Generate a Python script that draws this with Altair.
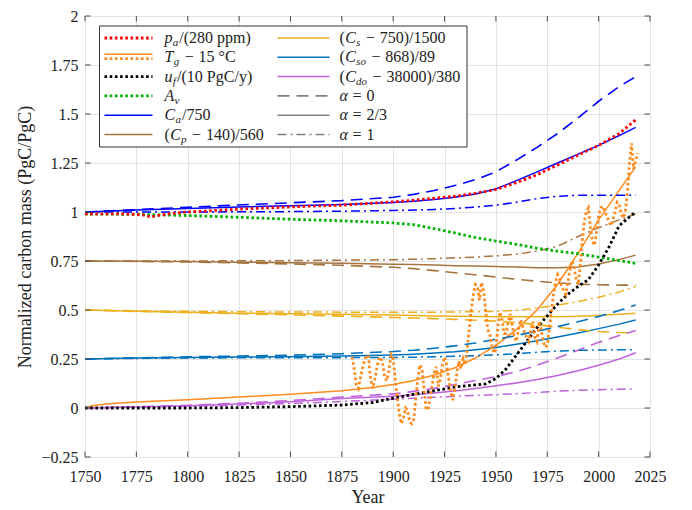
import altair as alt
import pandas as pd

# ---------------- data ----------------
YRS = [1750, 1775, 1800, 1825, 1850, 1875, 1900, 1910, 1920, 1930, 1940,
       1950, 1960, 1970, 1980, 1990, 2000, 2010, 2018]

CA_A0 = [1.0, 1.012, 1.024, 1.036, 1.047, 1.058, 1.075, 1.09, 1.11, 1.135, 1.165,
         1.205, 1.265, 1.33, 1.40, 1.48, 1.565, 1.64, 1.69]
CA_A23 = [1.0, 1.01, 1.018, 1.026, 1.032, 1.038, 1.048, 1.055, 1.064, 1.075, 1.092,
          1.118, 1.16, 1.205, 1.25, 1.295, 1.34, 1.39, 1.432]
CA_A1 = [1.0, 1.0, 1.0, 1.001, 1.002, 1.004, 1.008, 1.01, 1.013, 1.018, 1.025,
         1.035, 1.05, 1.068, 1.08, 1.085, 1.086, 1.086, 1.086]

CP_A0 = [0.75, 0.748, 0.745, 0.74, 0.735, 0.728, 0.718, 0.711, 0.701, 0.69, 0.68,
         0.668, 0.657, 0.647, 0.638, 0.632, 0.629, 0.627, 0.627]
CP_A23 = [0.75, 0.749, 0.747, 0.744, 0.741, 0.738, 0.734, 0.732, 0.729, 0.726, 0.724,
          0.722, 0.719, 0.716, 0.715, 0.72, 0.735, 0.757, 0.78]
CP_A1 = [0.75, 0.75, 0.75, 0.751, 0.752, 0.754, 0.757, 0.759, 0.762, 0.766, 0.77,
         0.776, 0.785, 0.80, 0.825, 0.875, 0.92, 0.96, 0.99]

CS_A0 = [0.5, 0.493, 0.487, 0.481, 0.475, 0.469, 0.462, 0.459, 0.456, 0.452, 0.448,
         0.443, 0.436, 0.425, 0.412, 0.40, 0.39, 0.385, 0.383]
CS_A23 = [0.5, 0.493, 0.488, 0.484, 0.481, 0.478, 0.474, 0.472, 0.47, 0.468, 0.467,
          0.466, 0.465, 0.465, 0.466, 0.468, 0.472, 0.478, 0.484]
CS_A1 = [0.5, 0.496, 0.493, 0.491, 0.49, 0.489, 0.489, 0.489, 0.489, 0.49, 0.491,
         0.493, 0.499, 0.51, 0.525, 0.543, 0.565, 0.592, 0.62]

CSO_A0 = [0.25, 0.256, 0.261, 0.265, 0.269, 0.277, 0.288, 0.295, 0.305, 0.317, 0.332,
          0.35, 0.37, 0.392, 0.415, 0.44, 0.467, 0.497, 0.525]
CSO_A23 = [0.25, 0.255, 0.258, 0.26, 0.262, 0.265, 0.27, 0.274, 0.28, 0.287, 0.297,
           0.309, 0.325, 0.343, 0.362, 0.383, 0.405, 0.428, 0.449]
CSO_A1 = [0.25, 0.253, 0.255, 0.256, 0.256, 0.257, 0.258, 0.259, 0.261, 0.264, 0.267,
          0.271, 0.277, 0.284, 0.29, 0.294, 0.296, 0.297, 0.297]

CDO_A0 = [0.0, 0.006, 0.014, 0.024, 0.038, 0.056, 0.072, 0.085, 0.10, 0.12, 0.14,
          0.16, 0.186, 0.218, 0.255, 0.295, 0.335, 0.37, 0.395]
CDO_A23 = [0.0, 0.005, 0.012, 0.02, 0.032, 0.048, 0.06, 0.067, 0.076, 0.087, 0.10,
           0.113, 0.128, 0.145, 0.166, 0.19, 0.218, 0.25, 0.282]
CDO_A1 = [0.0, 0.004, 0.009, 0.015, 0.023, 0.033, 0.045, 0.05, 0.055, 0.06, 0.064,
          0.068, 0.073, 0.079, 0.086, 0.09, 0.093, 0.096, 0.098]

AV = [0.99, 0.988, 0.982, 0.973, 0.963, 0.955, 0.944, 0.935, 0.915, 0.893, 0.87,
      0.852, 0.835, 0.815, 0.80, 0.787, 0.77, 0.752, 0.738]

PA_YRS = [1750, 1770, 1778, 1782, 1790, 1800, 1825, 1850, 1875, 1900, 1910, 1920,
          1930, 1940, 1950, 1960, 1970, 1980, 1990, 2000, 2010, 2018]
PA = [0.99, 0.99, 0.985, 0.975, 0.99, 1.0, 1.015, 1.026, 1.035, 1.052, 1.06, 1.07,
      1.08, 1.095, 1.115, 1.15, 1.19, 1.24, 1.29, 1.34, 1.40, 1.47]

UF_YRS = [1750, 1800, 1825, 1850, 1875, 1890, 1900, 1910, 1920, 1930, 1940, 1945,
          1950, 1955, 1960, 1965, 1970, 1975, 1980, 1985, 1990, 1995, 2000, 2005,
          2010, 2015, 2018]
UF = [0.0, 0.0, 0.002, 0.007, 0.015, 0.028, 0.05, 0.07, 0.088, 0.107, 0.118, 0.123,
      0.15, 0.20, 0.27, 0.34, 0.41, 0.47, 0.53, 0.58, 0.62, 0.655, 0.73, 0.82,
      0.93, 0.975, 1.0]

TG_MODEL_YRS = [1750, 1753, 1758, 1765, 1775, 1800, 1825, 1850, 1875, 1890, 1900,
                1910, 1920, 1930, 1940, 1950, 1960, 1970, 1980, 1990, 2000, 2010, 2018]
TG_MODEL = [0.0, 0.01, 0.018, 0.024, 0.03, 0.042, 0.056, 0.07, 0.088, 0.105, 0.12,
            0.14, 0.168, 0.205, 0.255, 0.32, 0.40, 0.50, 0.63, 0.79, 0.96, 1.11, 1.23]

TG_OBS_YRS = list(range(1880, 2020))
TG_OBS = [0.26, 0.2, 0.12, 0.1, 0.15, 0.2, 0.24, 0.27, 0.26, 0.15,
          0.1, 0.14, 0.2, 0.25, 0.26, 0.22, 0.15, 0.14, 0.2, 0.27,
          0.25, 0.15, 0.05, -0.03, -0.08, -0.05, 0.0, -0.01, -0.07, -0.08,
          -0.06, 0.05, 0.15, 0.22, 0.2, 0.1, 0.0, -0.01, 0.05, 0.12,
          0.18, 0.21, 0.11, 0.15, 0.22, 0.26, 0.22, 0.15, 0.08, 0.04,
          0.1, 0.18, 0.24, 0.2, 0.25, 0.22, 0.3, 0.4, 0.5, 0.58,
          0.63, 0.62, 0.55, 0.64, 0.6, 0.5, 0.4, 0.38, 0.32, 0.28,
          0.3, 0.42, 0.49, 0.45, 0.38, 0.38, 0.44, 0.48, 0.42, 0.36,
          0.34, 0.4, 0.45, 0.42, 0.38, 0.36, 0.34, 0.4, 0.44, 0.36,
          0.34, 0.44, 0.4, 0.34, 0.31, 0.32, 0.4, 0.49, 0.58, 0.64,
          0.68, 0.66, 0.62, 0.6, 0.58, 0.64, 0.7, 0.75, 0.72, 0.66,
          0.63, 0.72, 0.85, 0.95, 1.0, 1.02, 0.92, 0.85, 0.83, 0.9,
          0.98, 1.02, 1.03, 1.0, 0.98, 0.95, 0.93, 0.96, 1.0, 1.05,
          1.04, 0.99, 0.97, 1.0, 1.1, 1.25, 1.35, 1.22, 1.26, 1.3]

X_TICKS = list(range(1750, 2026, 25))
Y_TICKS = [-0.25, 0, 0.25, 0.5, 0.75, 1, 1.25, 1.5, 1.75, 2]

VARS = ["pa", "Tg", "uf", "Av", "Ca", "Cp", "Cs", "Cso", "Cdo", "gray"]
COLORS = ["#FF0000", "#FF8A1E", "#000000", "#00B300", "#0000FF", "#A5743F",
          "#EDB120", "#0072BD", "#BF62DC", "#808080"]

# ---------------- build tables ----------------
rows = []


def add(var, alpha, style, years, vals):
    for yr, v in zip(years, vals):
        rows.append(dict(var=var, series=f"{var}_{alpha}", style=style, year=yr, value=v))


add("Ca", "a0", "dashed", YRS, CA_A0)
add("Ca", "a23", "solid", YRS, CA_A23)
add("Ca", "a1", "dashdot", YRS, CA_A1)
add("Cp", "a0", "dashed", YRS, CP_A0)
add("Cp", "a23", "solid", YRS, CP_A23)
add("Cp", "a1", "dashdot", YRS, CP_A1)
add("Cs", "a0", "dashed", YRS, CS_A0)
add("Cs", "a23", "solid", YRS, CS_A23)
add("Cs", "a1", "dashdot", YRS, CS_A1)
add("Cso", "a0", "dashed", YRS, CSO_A0)
add("Cso", "a23", "solid", YRS, CSO_A23)
add("Cso", "a1", "dashdot", YRS, CSO_A1)
add("Cdo", "a0", "dashed", YRS, CDO_A0)
add("Cdo", "a23", "solid", YRS, CDO_A23)
add("Cdo", "a1", "dashdot", YRS, CDO_A1)
add("Tg", "model", "solid", TG_MODEL_YRS, TG_MODEL)
add("Av", "obs", "dotted", YRS, AV)
add("pa", "obs", "dotted", PA_YRS, PA)
add("uf", "obs", "dotted", UF_YRS, UF)
add("Tg", "obs", "dotted", TG_OBS_YRS, TG_OBS)
df = pd.DataFrame(rows)

W, H = 565, 441
FONT = "'Liberation Serif', 'DejaVu Serif', serif"
TXT = "#222222"
FRAME = "#4d4d4d"

xs = alt.Scale(domain=[1750, 2025], nice=False, zero=False)
ys = alt.Scale(domain=[-0.25, 2], nice=False, zero=False)
cs = alt.Scale(domain=VARS, range=COLORS)

DASHES = {"solid": [1, 0], "dashed": [12, 7], "dashdot": [9, 4, 2, 4], "dotted": [2.6, 2.6]}
WIDTHS = {"solid": 1.5, "dashed": 1.6, "dashdot": 1.5, "dotted": 2.8}

x_enc = alt.X("year:Q", scale=xs,
              axis=alt.Axis(values=X_TICKS, format="d", title="Year", grid=True,
                            gridColor="#e3e3e3", ticks=False, domain=False,
                            labelFlush=False, labelOverlap=False,
                            labelFont=FONT, labelFontSize=16, labelColor=TXT,
                            labelPadding=11, titleFont=FONT, titleFontSize=18,
                            titleFontWeight="normal", titleColor=TXT, titlePadding=4))
y_enc = alt.Y("value:Q", scale=ys,
              axis=alt.Axis(values=Y_TICKS, format=".2~f",
                            title="Normalized carbon mass (PgC/PgC)", grid=True,
                            gridColor="#e3e3e3", ticks=False, domain=False,
                            labelFlush=False, labelOverlap=False,
                            labelFont=FONT, labelFontSize=16, labelColor=TXT,
                            labelPadding=7, titleFont=FONT, titleFontSize=18,
                            titleFontWeight="normal", titleColor=TXT, titlePadding=6))

base = alt.Chart(df)
line_layers = []
for st in ["solid", "dashed", "dashdot", "dotted"]:
    kw = dict(strokeWidth=WIDTHS[st], clip=True)
    if st != "solid":
        kw["strokeDash"] = DASHES[st]
    if st == "dotted":
        kw["strokeCap"] = "butt"
    line_layers.append(
        base.transform_filter(alt.datum.style == st).mark_line(**kw).encode(
            x=x_enc, y=y_enc,
            color=alt.Color("var:N", scale=cs, legend=None),
            detail="series:N",
        )
    )

# inward ticks on all four sides
TL = 5.5
xt = alt.Chart(pd.DataFrame({"t": X_TICKS}))
yt = alt.Chart(pd.DataFrame({"t": Y_TICKS}))
tick_layers = [
    xt.mark_rule(color=FRAME, strokeWidth=1).encode(
        x=alt.X("t:Q", scale=xs), y=alt.value(H), y2=alt.value(H - TL)),
    xt.mark_rule(color=FRAME, strokeWidth=1).encode(
        x=alt.X("t:Q", scale=xs), y=alt.value(0), y2=alt.value(TL)),
    yt.mark_rule(color=FRAME, strokeWidth=1).encode(
        y=alt.Y("t:Q", scale=ys), x=alt.value(0), x2=alt.value(TL)),
    yt.mark_rule(color=FRAME, strokeWidth=1).encode(
        y=alt.Y("t:Q", scale=ys), x=alt.value(W), x2=alt.value(W - TL)),
]

# ---------------- custom legend ----------------
GAP = "  "   # marks a math-operator gap (turned into an x offset below)
ROW_Y = [22.0, 41.2, 60.6, 79.9, 99.2, 118.5]
COL = [(19.5, 67.5, 79.5), (192.5, 244.5, 254.5)]

LEG = [
    (0, 0, "pa", [(0, "dotted")], [("p", "i"), ("a", "s"), ("/(280 ppm)", "r")]),
    (0, 1, "Tg", [(-3, "solid"), (1.5, "dotted")],
     [("T", "i"), ("g", "s"), ("−", "r"), ("15 °C", "r")]),
    (0, 2, "uf", [(0, "dotted")], [("u", "i"), ("f", "s"), ("/(10 PgC/y)", "r")]),
    (0, 3, "Av", [(0, "dotted")], [("A", "i"), ("v", "s")]),
    (0, 4, "Ca", [(0, "solid")], [("C", "i"), ("a", "s"), ("/750", "r")]),
    (0, 5, "Cp", [(0, "solid")], [("(", "r"), ("C", "i"), ("p", "s"), ("−", "r"), ("140)/560", "r")]),
    (1, 0, "Cs", [(0, "solid")], [("(", "r"), ("C", "i"), ("s", "s"), ("−", "r"), ("750)/1500", "r")]),
    (1, 1, "Cso", [(0, "solid")], [("(", "r"), ("C", "i"), ("so", "s"), ("−", "r"), ("868)/89", "r")]),
    (1, 2, "Cdo", [(0, "solid")], [("(", "r"), ("C", "i"), ("do", "s"), ("−", "r"), ("38000)/380", "r")]),
    (1, 3, "gray", [(0, "dashed")], [("α", "i"), ("=", "r"), ("0", "r")]),
    (1, 4, "gray", [(0, "solid")], [("α", "i"), ("=", "r"), ("2/3", "r")]),
    (1, 5, "gray", [(0, "dashdot")], [("α", "i"), ("=", "r"), ("1", "r")]),
]

RW = {" ": 0.25, "(": 0.333, ")": 0.333, "/": 0.278, ".": 0.25, "p": 0.5,
      "m": 0.778, "P": 0.556, "g": 0.5, "C": 0.667, "y": 0.5, "°": 0.4, "−": 0.564,
      "=": 0.564}
IW = {"p": 0.5, "T": 0.556, "u": 0.5, "A": 0.611, "C": 0.667, "α": 0.52, "a": 0.5,
      "g": 0.5, "f": 0.3, "v": 0.444, "s": 0.389, "o": 0.5, "d": 0.5}
FS, SS = 16, 11
OPGAP = 4.5  # space on each side of − and =


def twidth(s, kind):
    tab = RW if kind == "r" else IW
    size = SS if kind == "s" else FS
    return sum(tab.get(ch, 0.5) for ch in s) * size


samp_rows, text_rows = [], []
for col, row, var, samples, pieces in LEG:
    x1, x2, tx = COL[col]
    yy = ROW_Y[row]
    for dy, st in samples:
        samp_rows.append(dict(x1=x1, x2=x2, y=yy + dy, var=var, style=st))
    cx = tx
    for s, kind in pieces:
        is_op = s in ("−", "=")
        if is_op:
            cx += OPGAP
        text_rows.append(dict(px=cx, py=yy + (5 if kind == "s" else 0), text=s, kind=kind))
        cx += twidth(s, kind) + (1 if kind == "s" else 0.3)
        if is_op:
            cx += OPGAP

samp_df = pd.DataFrame(samp_rows)
text_df = pd.DataFrame(text_rows)

legend_box = alt.Chart(pd.DataFrame({"a": [0]})).mark_rect(
    fill="white", stroke="#333333", strokeWidth=1).encode(
    x=alt.value(14.5), x2=alt.value(382), y=alt.value(10), y2=alt.value(131))

samp_layers = []
for st in ["solid", "dashed", "dashdot", "dotted"]:
    kw = dict(strokeWidth=WIDTHS[st])
    if st != "solid":
        kw["strokeDash"] = DASHES[st]
    samp_layers.append(
        alt.Chart(samp_df).transform_filter(alt.datum.style == st).mark_rule(**kw).encode(
            x=alt.X("x1:Q", scale=None), x2="x2:Q",
            y=alt.Y("y:Q", scale=None),
            color=alt.Color("var:N", scale=cs, legend=None)))

text_layers = []
for kind, style, size in [("r", "normal", FS), ("i", "italic", FS), ("s", "italic", SS)]:
    text_layers.append(
        alt.Chart(text_df).transform_filter(alt.datum.kind == kind).mark_text(
            align="left", baseline="middle", font=FONT, fontSize=size,
            fontStyle=style, color=TXT).encode(
            x=alt.X("px:Q", scale=None), y=alt.Y("py:Q", scale=None), text="text:N"))

chart = alt.layer(
    *line_layers, *tick_layers, legend_box, *samp_layers, *text_layers
).properties(
    width=W, height=H,
    padding={"left": 77, "top": 8, "right": 34, "bottom": 53},
    autosize=alt.AutoSizeParams(type="none"),
    background="white",
).configure_view(stroke=FRAME, strokeWidth=1)

chart.save("out.html", embed_options={"renderer": "svg", "actions": False})
